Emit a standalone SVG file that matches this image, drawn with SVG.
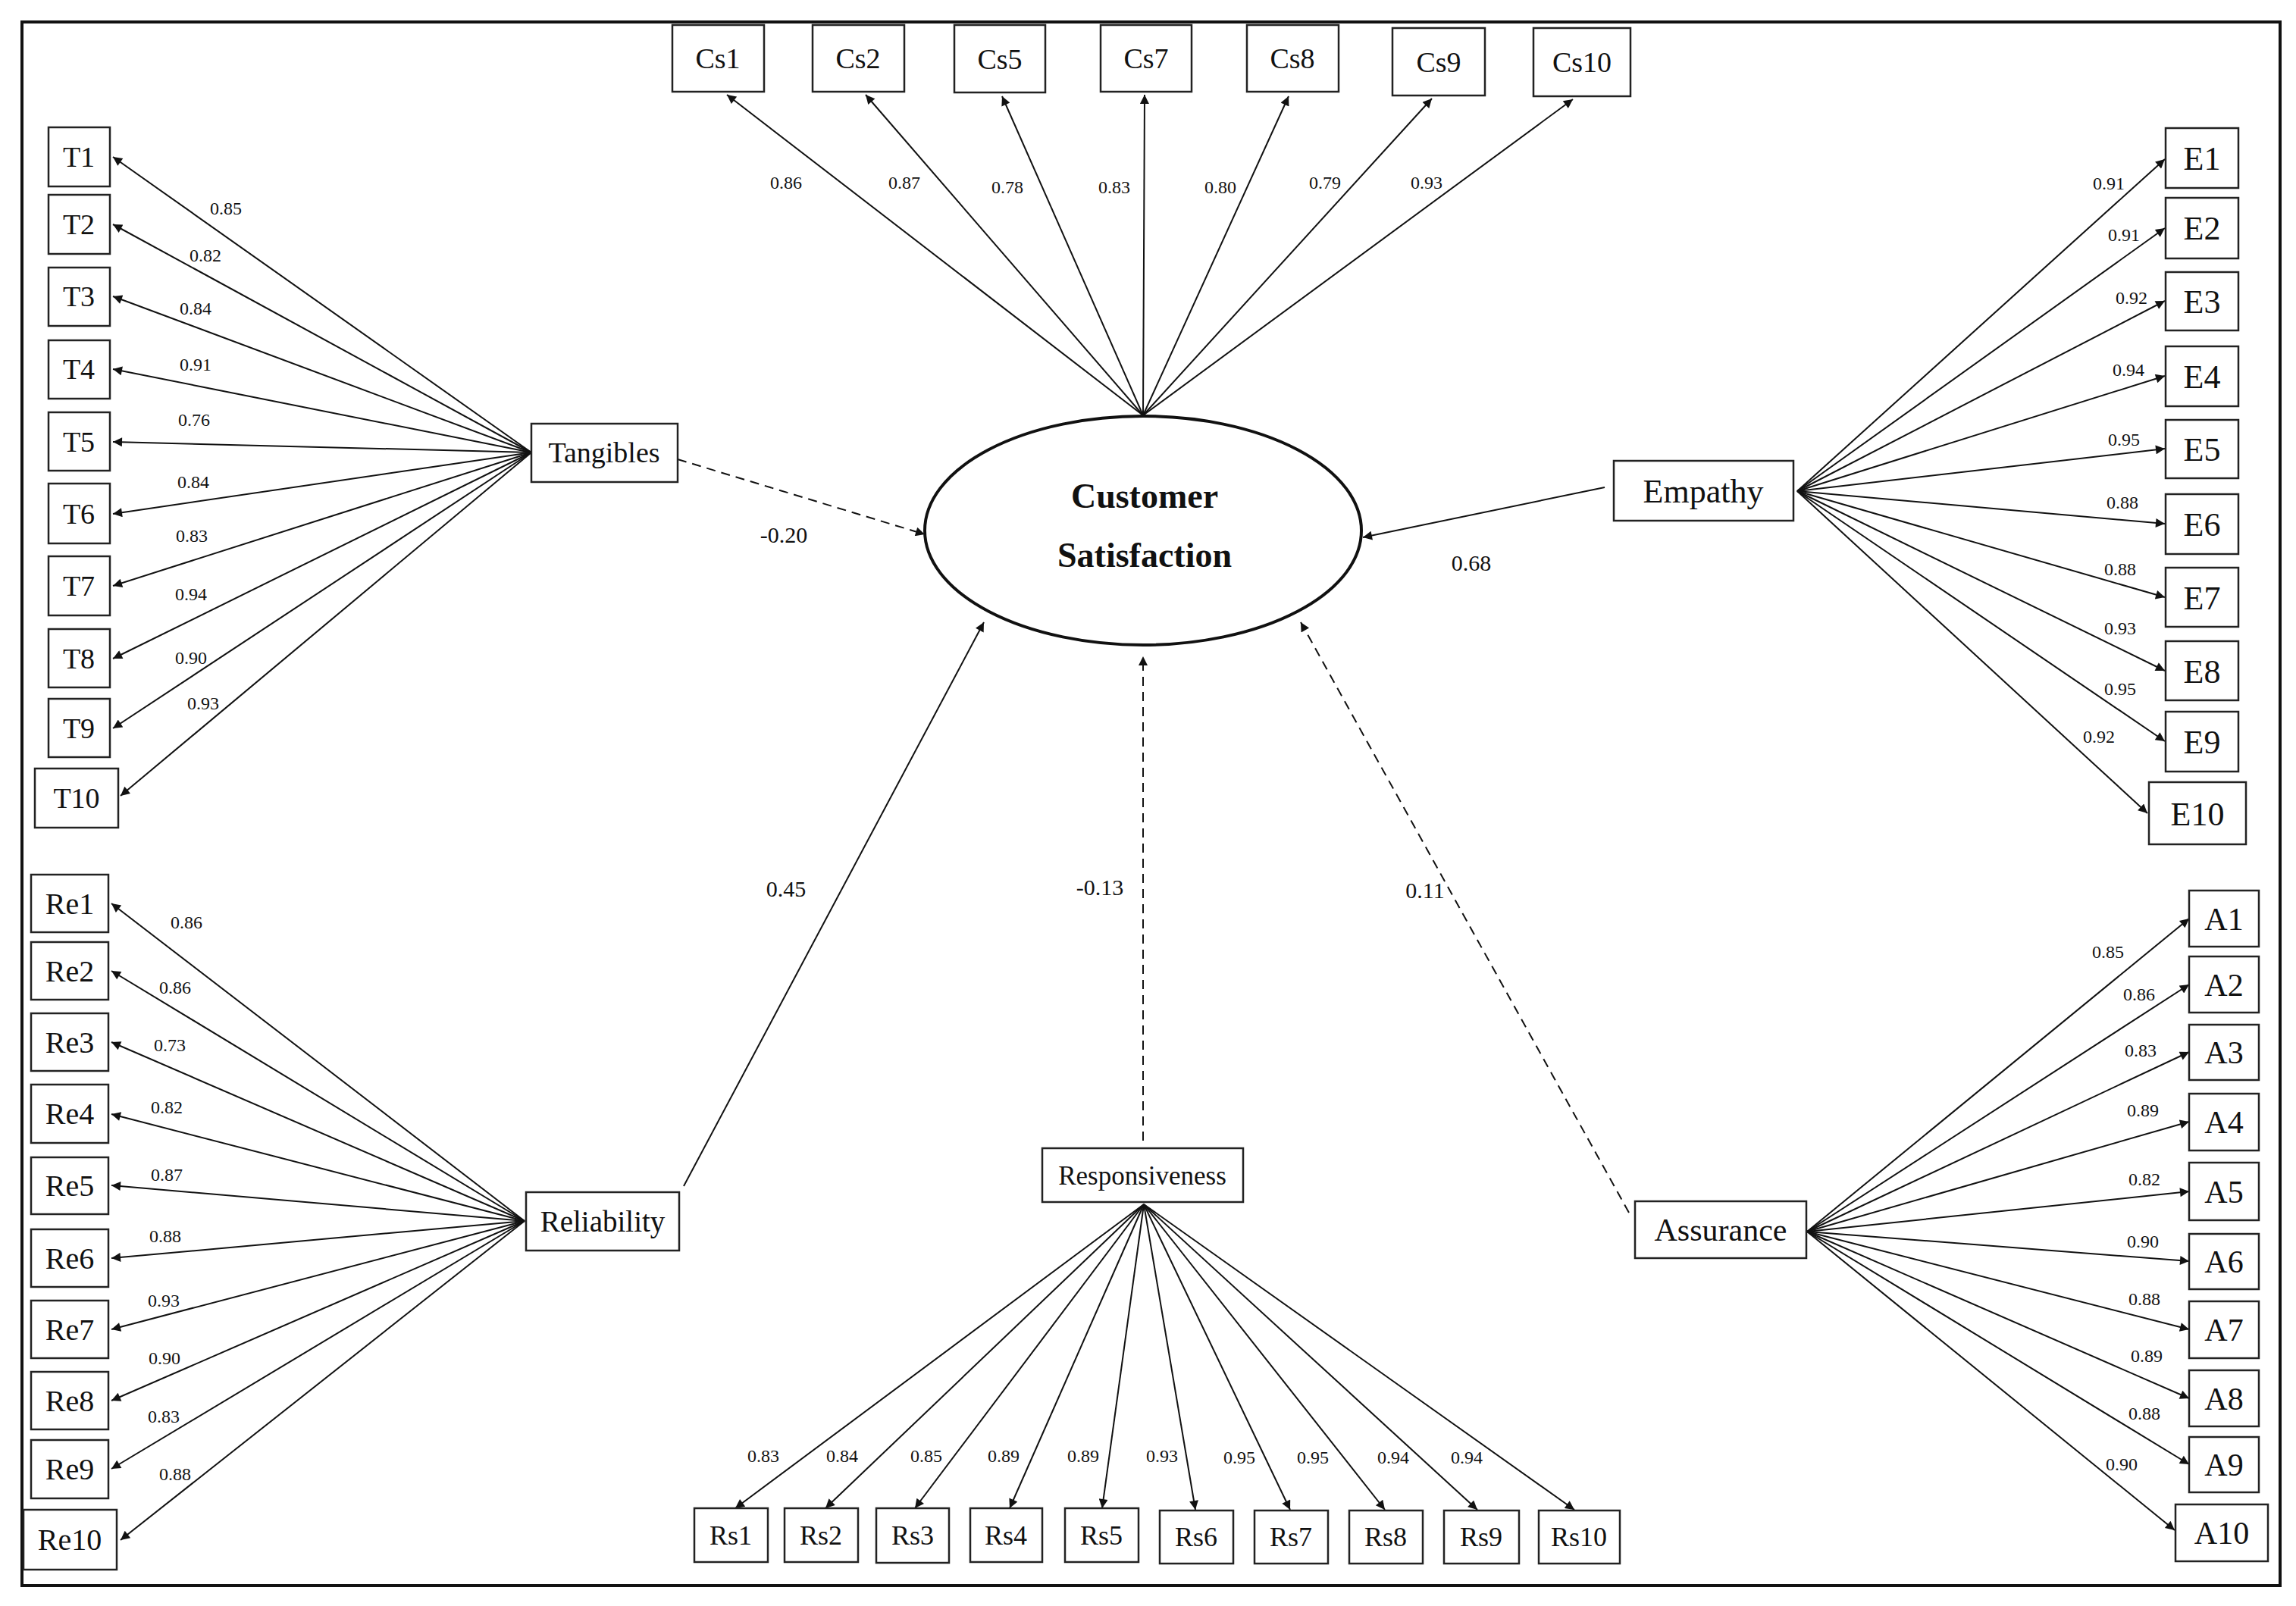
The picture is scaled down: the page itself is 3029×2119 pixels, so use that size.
<svg xmlns="http://www.w3.org/2000/svg" width="3029" height="2119" viewBox="0 0 3029 2119">
<style>
.bx{fill:#fff;stroke:#222;stroke-width:2.5}
.t{font-family:"Liberation Serif","Times New Roman",serif;fill:#111;text-anchor:middle}
.n{font-size:38px}
.c{font-size:24px}
.p{font-size:30px}
.ln{stroke:#111;stroke-width:2;fill:none}
.d{stroke-dasharray:12 8}
</style>
<defs>
<marker id="ah" viewBox="0 0 10 10" refX="10" refY="5" markerWidth="16" markerHeight="12" markerUnits="userSpaceOnUse" orient="auto">
<path d="M0,0 L10,5 L0,10 z" fill="#111"/>
</marker>
</defs>
<rect x="29" y="29" width="2979" height="2063" fill="#fff" stroke="#111" stroke-width="4"/>
<g id="connectors" class="ln" marker-end="url(#ah)">
<!-- Tangibles -->
<line x1="701" y1="597" x2="149" y2="207"/>
<line x1="701" y1="597" x2="149" y2="296"/>
<line x1="701" y1="597" x2="149" y2="391"/>
<line x1="701" y1="597" x2="149" y2="487"/>
<line x1="701" y1="597" x2="149" y2="583"/>
<line x1="701" y1="597" x2="149" y2="678"/>
<line x1="701" y1="597" x2="149" y2="773"/>
<line x1="701" y1="597" x2="149" y2="869"/>
<line x1="701" y1="597" x2="149" y2="961"/>
<line x1="701" y1="597" x2="159" y2="1050"/>
<!-- CS -->
<line x1="1508" y1="548" x2="959" y2="125"/>
<line x1="1508" y1="548" x2="1142" y2="125"/>
<line x1="1508" y1="548" x2="1322" y2="127"/>
<line x1="1508" y1="548" x2="1510" y2="125"/>
<line x1="1508" y1="548" x2="1700" y2="127"/>
<line x1="1508" y1="548" x2="1889" y2="130"/>
<line x1="1508" y1="548" x2="2075" y2="131"/>
<!-- Empathy -->
<line x1="2371" y1="648" x2="2856" y2="210"/>
<line x1="2371" y1="648" x2="2856" y2="301"/>
<line x1="2371" y1="648" x2="2856" y2="397"/>
<line x1="2371" y1="648" x2="2856" y2="496"/>
<line x1="2371" y1="648" x2="2856" y2="592"/>
<line x1="2371" y1="648" x2="2856" y2="691"/>
<line x1="2371" y1="648" x2="2856" y2="788"/>
<line x1="2371" y1="648" x2="2856" y2="885"/>
<line x1="2371" y1="648" x2="2856" y2="978"/>
<line x1="2371" y1="648" x2="2833" y2="1073"/>
<!-- Reliability -->
<line x1="692" y1="1611" x2="147" y2="1192"/>
<line x1="692" y1="1611" x2="147" y2="1281"/>
<line x1="692" y1="1611" x2="147" y2="1375"/>
<line x1="692" y1="1611" x2="147" y2="1470"/>
<line x1="692" y1="1611" x2="147" y2="1564"/>
<line x1="692" y1="1611" x2="147" y2="1660"/>
<line x1="692" y1="1611" x2="147" y2="1754"/>
<line x1="692" y1="1611" x2="147" y2="1848"/>
<line x1="692" y1="1611" x2="147" y2="1938"/>
<line x1="692" y1="1611" x2="159" y2="2032"/>
<!-- Responsiveness -->
<line x1="1509" y1="1589" x2="970" y2="1990"/>
<line x1="1509" y1="1589" x2="1089" y2="1990"/>
<line x1="1509" y1="1589" x2="1207" y2="1990"/>
<line x1="1509" y1="1589" x2="1332" y2="1990"/>
<line x1="1509" y1="1589" x2="1454" y2="1990"/>
<line x1="1509" y1="1589" x2="1577" y2="1992"/>
<line x1="1509" y1="1589" x2="1702" y2="1992"/>
<line x1="1509" y1="1589" x2="1827" y2="1992"/>
<line x1="1509" y1="1589" x2="1949" y2="1992"/>
<line x1="1509" y1="1589" x2="2077" y2="1992"/>
<!-- Assurance -->
<line x1="2384" y1="1625" x2="2888" y2="1212"/>
<line x1="2384" y1="1625" x2="2888" y2="1299"/>
<line x1="2384" y1="1625" x2="2888" y2="1388"/>
<line x1="2384" y1="1625" x2="2888" y2="1480"/>
<line x1="2384" y1="1625" x2="2888" y2="1572"/>
<line x1="2384" y1="1625" x2="2888" y2="1664"/>
<line x1="2384" y1="1625" x2="2888" y2="1754"/>
<line x1="2384" y1="1625" x2="2888" y2="1845"/>
<line x1="2384" y1="1625" x2="2888" y2="1932"/>
<line x1="2384" y1="1625" x2="2869" y2="2019"/>
<!-- structural -->
<line class="d" x1="894" y1="606" x2="1220" y2="705"/>
<line x1="2117" y1="643" x2="1798" y2="709"/>
<line x1="902" y1="1565" x2="1298" y2="821"/>
<line class="d" x1="1508" y1="1505" x2="1508" y2="866"/>
<line class="d" x1="2149" y1="1600" x2="1716" y2="821"/>
</g>
<g id="coefficients" class="t c">
<text x="298" y="283">0.85</text><text x="271" y="345">0.82</text><text x="258" y="415">0.84</text><text x="258" y="489">0.91</text><text x="256" y="562">0.76</text><text x="255" y="644">0.84</text><text x="253" y="715">0.83</text><text x="252" y="792">0.94</text><text x="252" y="876">0.90</text><text x="268" y="936">0.93</text>
<text x="1037" y="249">0.86</text><text x="1193" y="249">0.87</text><text x="1329" y="255">0.78</text><text x="1470" y="255">0.83</text><text x="1610" y="255">0.80</text><text x="1748" y="249">0.79</text><text x="1882" y="249">0.93</text>
<text x="2782" y="250">0.91</text><text x="2802" y="318">0.91</text><text x="2812" y="401">0.92</text><text x="2808" y="496">0.94</text><text x="2802" y="588">0.95</text><text x="2800" y="671">0.88</text><text x="2797" y="759">0.88</text><text x="2797" y="837">0.93</text><text x="2797" y="917">0.95</text><text x="2769" y="980">0.92</text>
<text x="246" y="1225">0.86</text><text x="231" y="1311">0.86</text><text x="224" y="1387">0.73</text><text x="220" y="1469">0.82</text><text x="220" y="1558">0.87</text><text x="218" y="1639">0.88</text><text x="216" y="1724">0.93</text><text x="217" y="1800">0.90</text><text x="216" y="1877">0.83</text><text x="231" y="1953">0.88</text>
<text x="1007" y="1929">0.83</text><text x="1111" y="1929">0.84</text><text x="1222" y="1929">0.85</text><text x="1324" y="1929">0.89</text><text x="1429" y="1929">0.89</text><text x="1533" y="1929">0.93</text><text x="1635" y="1931">0.95</text><text x="1732" y="1931">0.95</text><text x="1838" y="1931">0.94</text><text x="1935" y="1931">0.94</text>
<text x="2781" y="1264">0.85</text><text x="2822" y="1320">0.86</text><text x="2824" y="1394">0.83</text><text x="2827" y="1473">0.89</text><text x="2829" y="1564">0.82</text><text x="2827" y="1646">0.90</text><text x="2829" y="1722">0.88</text><text x="2832" y="1797">0.89</text><text x="2829" y="1873">0.88</text><text x="2799" y="1940">0.90</text>
</g>
<g id="paths" class="t p">
<text x="1034" y="716">-0.20</text><text x="1941" y="753">0.68</text><text x="1037" y="1183">0.45</text><text x="1451" y="1181">-0.13</text><text x="1880" y="1185">0.11</text>
</g>
<g id="cs"><ellipse cx="1508" cy="700" rx="288" ry="151" fill="#fff" stroke="#111" stroke-width="4"/>
<text class="t" x="1510" y="670" font-size="46" font-weight="bold">Customer</text>
<text class="t" x="1510" y="748" font-size="46" font-weight="bold">Satisfaction</text></g>
<g id="tangibles"><rect class="bx" x="701" y="559" width="193" height="77"/><text class="t n" x="797" y="610">Tangibles</text></g>
<g id="empathy"><rect class="bx" x="2129" y="608" width="237" height="79"/><text class="t" font-size="44" x="2247" y="663">Empathy</text></g>
<g id="reliability"><rect class="bx" x="694" y="1573" width="202" height="77"/><text class="t" font-size="39" x="795" y="1625">Reliability</text></g>
<g id="responsiveness"><rect class="bx" x="1375" y="1515" width="265" height="71"/><text class="t" font-size="35" x="1507" y="1563">Responsiveness</text></g>
<g id="assurance"><rect class="bx" x="2157" y="1585" width="226" height="75"/><text class="t" font-size="42" x="2270" y="1637">Assurance</text></g>
<g id="T" class="t n">
<g id="T1"><rect class="bx" x="64" y="168" width="81" height="78"/><text x="104" y="220">T1</text></g>
<g id="T2"><rect class="bx" x="64" y="257" width="81" height="78"/><text x="104" y="309">T2</text></g>
<g id="T3"><rect class="bx" x="64" y="353" width="81" height="77"/><text x="104" y="404">T3</text></g>
<g id="T4"><rect class="bx" x="64" y="449" width="81" height="77"/><text x="104" y="500">T4</text></g>
<g id="T5"><rect class="bx" x="64" y="544" width="81" height="77"/><text x="104" y="596">T5</text></g>
<g id="T6"><rect class="bx" x="64" y="638" width="81" height="79"/><text x="104" y="691">T6</text></g>
<g id="T7"><rect class="bx" x="64" y="734" width="81" height="78"/><text x="104" y="786">T7</text></g>
<g id="T8"><rect class="bx" x="64" y="830" width="81" height="77"/><text x="104" y="882">T8</text></g>
<g id="T9"><rect class="bx" x="64" y="922" width="81" height="77"/><text x="104" y="974">T9</text></g>
<g id="T10"><rect class="bx" x="46" y="1014" width="110" height="78"/><text x="101" y="1066">T10</text></g>
</g>
<g id="CSitems" class="t n">
<g id="Cs1"><rect class="bx" x="887" y="33" width="121" height="88"/><text x="947" y="90">Cs1</text></g>
<g id="Cs2"><rect class="bx" x="1072" y="33" width="121" height="88"/><text x="1132" y="90">Cs2</text></g>
<g id="Cs5"><rect class="bx" x="1259" y="33" width="120" height="89"/><text x="1319" y="91">Cs5</text></g>
<g id="Cs7"><rect class="bx" x="1452" y="33" width="120" height="88"/><text x="1512" y="90">Cs7</text></g>
<g id="Cs8"><rect class="bx" x="1645" y="33" width="121" height="88"/><text x="1705" y="90">Cs8</text></g>
<g id="Cs9"><rect class="bx" x="1837" y="37" width="122" height="89"/><text x="1898" y="95">Cs9</text></g>
<g id="Cs10"><rect class="bx" x="2023" y="37" width="128" height="90"/><text x="2087" y="95">Cs10</text></g>
</g>
<g id="E" class="t" font-size="44">
<g id="E1"><rect class="bx" x="2857" y="169" width="96" height="79"/><text x="2905" y="224">E1</text></g>
<g id="E2"><rect class="bx" x="2857" y="261" width="96" height="80"/><text x="2905" y="316">E2</text></g>
<g id="E3"><rect class="bx" x="2857" y="359" width="96" height="77"/><text x="2905" y="413">E3</text></g>
<g id="E4"><rect class="bx" x="2857" y="457" width="96" height="79"/><text x="2905" y="512">E4</text></g>
<g id="E5"><rect class="bx" x="2857" y="554" width="96" height="77"/><text x="2905" y="608">E5</text></g>
<g id="E6"><rect class="bx" x="2857" y="652" width="96" height="79"/><text x="2905" y="707">E6</text></g>
<g id="E7"><rect class="bx" x="2857" y="749" width="96" height="78"/><text x="2905" y="804">E7</text></g>
<g id="E8"><rect class="bx" x="2857" y="846" width="96" height="78"/><text x="2905" y="901">E8</text></g>
<g id="E9"><rect class="bx" x="2857" y="939" width="96" height="79"/><text x="2905" y="994">E9</text></g>
<g id="E10"><rect class="bx" x="2835" y="1032" width="128" height="82"/><text x="2899" y="1089">E10</text></g>
</g>
<g id="Re" class="t" font-size="40">
<g id="Re1"><rect class="bx" x="41" y="1154" width="102" height="76"/><text x="92" y="1206">Re1</text></g>
<g id="Re2"><rect class="bx" x="41" y="1243" width="102" height="76"/><text x="92" y="1295">Re2</text></g>
<g id="Re3"><rect class="bx" x="41" y="1337" width="102" height="76"/><text x="92" y="1389">Re3</text></g>
<g id="Re4"><rect class="bx" x="41" y="1431" width="102" height="77"/><text x="92" y="1483">Re4</text></g>
<g id="Re5"><rect class="bx" x="41" y="1527" width="102" height="75"/><text x="92" y="1578">Re5</text></g>
<g id="Re6"><rect class="bx" x="41" y="1622" width="102" height="76"/><text x="92" y="1674">Re6</text></g>
<g id="Re7"><rect class="bx" x="41" y="1716" width="102" height="76"/><text x="92" y="1768">Re7</text></g>
<g id="Re8"><rect class="bx" x="41" y="1810" width="102" height="76"/><text x="92" y="1862">Re8</text></g>
<g id="Re9"><rect class="bx" x="41" y="1900" width="102" height="77"/><text x="92" y="1952">Re9</text></g>
<g id="Re10"><rect class="bx" x="31" y="1992" width="123" height="79"/><text x="92" y="2045">Re10</text></g>
</g>
<g id="Rs" class="t" font-size="36">
<g id="Rs1"><rect class="bx" x="916" y="1990" width="97" height="71"/><text x="964" y="2038">Rs1</text></g>
<g id="Rs2"><rect class="bx" x="1035" y="1990" width="97" height="71"/><text x="1083" y="2038">Rs2</text></g>
<g id="Rs3"><rect class="bx" x="1156" y="1990" width="96" height="72"/><text x="1204" y="2038">Rs3</text></g>
<g id="Rs4"><rect class="bx" x="1280" y="1990" width="95" height="71"/><text x="1327" y="2038">Rs4</text></g>
<g id="Rs5"><rect class="bx" x="1405" y="1990" width="97" height="71"/><text x="1453" y="2038">Rs5</text></g>
<g id="Rs6"><rect class="bx" x="1530" y="1993" width="97" height="70"/><text x="1578" y="2040">Rs6</text></g>
<g id="Rs7"><rect class="bx" x="1655" y="1993" width="97" height="70"/><text x="1703" y="2040">Rs7</text></g>
<g id="Rs8"><rect class="bx" x="1780" y="1993" width="97" height="70"/><text x="1828" y="2040">Rs8</text></g>
<g id="Rs9"><rect class="bx" x="1905" y="1993" width="99" height="70"/><text x="1954" y="2040">Rs9</text></g>
<g id="Rs10"><rect class="bx" x="2030" y="1993" width="107" height="70"/><text x="2083" y="2040">Rs10</text></g>
</g>
<g id="A" class="t" font-size="42">
<g id="A1"><rect class="bx" x="2888" y="1175" width="92" height="74"/><text x="2934" y="1227">A1</text></g>
<g id="A2"><rect class="bx" x="2888" y="1262" width="92" height="74"/><text x="2934" y="1314">A2</text></g>
<g id="A3"><rect class="bx" x="2888" y="1352" width="92" height="73"/><text x="2934" y="1403">A3</text></g>
<g id="A4"><rect class="bx" x="2888" y="1443" width="92" height="75"/><text x="2934" y="1495">A4</text></g>
<g id="A5"><rect class="bx" x="2888" y="1534" width="92" height="76"/><text x="2934" y="1587">A5</text></g>
<g id="A6"><rect class="bx" x="2888" y="1628" width="92" height="73"/><text x="2934" y="1679">A6</text></g>
<g id="A7"><rect class="bx" x="2888" y="1717" width="92" height="75"/><text x="2934" y="1769">A7</text></g>
<g id="A8"><rect class="bx" x="2888" y="1808" width="92" height="74"/><text x="2934" y="1860">A8</text></g>
<g id="A9"><rect class="bx" x="2888" y="1896" width="92" height="73"/><text x="2934" y="1947">A9</text></g>
<g id="A10"><rect class="bx" x="2870" y="1985" width="122" height="75"/><text x="2931" y="2037">A10</text></g>
</g>
</svg>
